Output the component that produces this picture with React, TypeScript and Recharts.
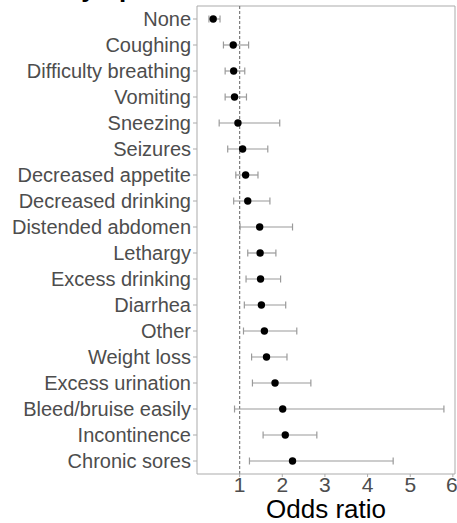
import { ScatterChart, Scatter, XAxis, YAxis, ErrorBar, ReferenceLine, CartesianGrid } from 'recharts';

const SYMPTOMS = [
  'None',
  'Coughing',
  'Difficulty breathing',
  'Vomiting',
  'Sneezing',
  'Seizures',
  'Decreased appetite',
  'Decreased drinking',
  'Distended abdomen',
  'Lethargy',
  'Excess drinking',
  'Diarrhea',
  'Other',
  'Weight loss',
  'Excess urination',
  'Bleed/bruise easily',
  'Incontinence',
  'Chronic sores',
];
const ODDS = [0.38, 0.85, 0.86, 0.88, 0.96, 1.07, 1.14, 1.19, 1.47, 1.48, 1.49, 1.51, 1.58, 1.63, 1.83, 2.01, 2.07, 2.24];
const LOWER = [0.28, 0.62, 0.66, 0.66, 0.52, 0.72, 0.91, 0.86, 1.01, 1.19, 1.15, 1.11, 1.09, 1.28, 1.3, 0.88, 1.55, 1.23];
const UPPER = [0.54, 1.21, 1.12, 1.16, 1.94, 1.66, 1.43, 1.71, 2.24, 1.85, 1.96, 2.08, 2.34, 2.11, 2.67, 5.79, 2.81, 4.6];
const X_TICKS = [1, 2, 3, 4, 5, 6];

const data = SYMPTOMS.map((name, i) => ({
  name,
  or: ODDS[i],
  err: [ODDS[i] - LOWER[i], UPPER[i] - ODDS[i]],
}));

const FONT = 'Liberation Sans, Arial, Helvetica, sans-serif';
const BORDER = '#ababab';

const Dot = (props: any) => <circle cx={props.cx} cy={props.cy} r={3.7} fill="#000" />;

export default function App() {
  return (
    <div style={{ position: 'fixed', left: 0, top: 0, width: 457, height: 523, overflow: 'hidden', background: '#fff', fontFamily: FONT }}>
      <div style={{ position: 'absolute', left: 64, top: -25, fontSize: 26, lineHeight: '26px', fontWeight: 'bold', color: '#000', whiteSpace: 'nowrap' }}>
        Symptom
      </div>
      <ScatterChart width={457} height={523} margin={{ top: 6, right: 2, bottom: 0, left: 0 }}>
        {/* top and right edges of the panel box */}
        <CartesianGrid
          stroke={BORDER}
          strokeWidth={1}
          horizontalCoordinatesGenerator={({ offset }: any) => [offset.top]}
          verticalCoordinatesGenerator={({ offset }: any) => [offset.left + offset.width]}
        />
        <XAxis
          type="number"
          dataKey="or"
          domain={[0, 6.05]}
          allowDataOverflow
          ticks={X_TICKS}
          height={49}
          tickSize={3}
          tickMargin={0}
          stroke={BORDER}
          tick={{ fontSize: 21, fill: '#4d4d4d', fontFamily: FONT }}
          label={{ value: 'Odds ratio', position: 'insideBottom', offset: 5, fontSize: 26, fill: '#000', fontFamily: FONT }}
        />
        <YAxis
          type="category"
          dataKey="name"
          reversed
          width={197}
          tickSize={4}
          tickMargin={2}
          interval={0}
          stroke={BORDER}
          tick={{ fontSize: 20, fill: '#4d4d4d', fontFamily: FONT }}
        />
        <ReferenceLine x={1} stroke="#7a7a7a" strokeDasharray="3 2" strokeWidth={1.2} />
        <Scatter data={data} shape={Dot} isAnimationActive={false}>
          <ErrorBar dataKey="err" direction="x" width={3.5} stroke="#9a9a9a" strokeWidth={1.2} />
        </Scatter>
      </ScatterChart>
    </div>
  );
}
